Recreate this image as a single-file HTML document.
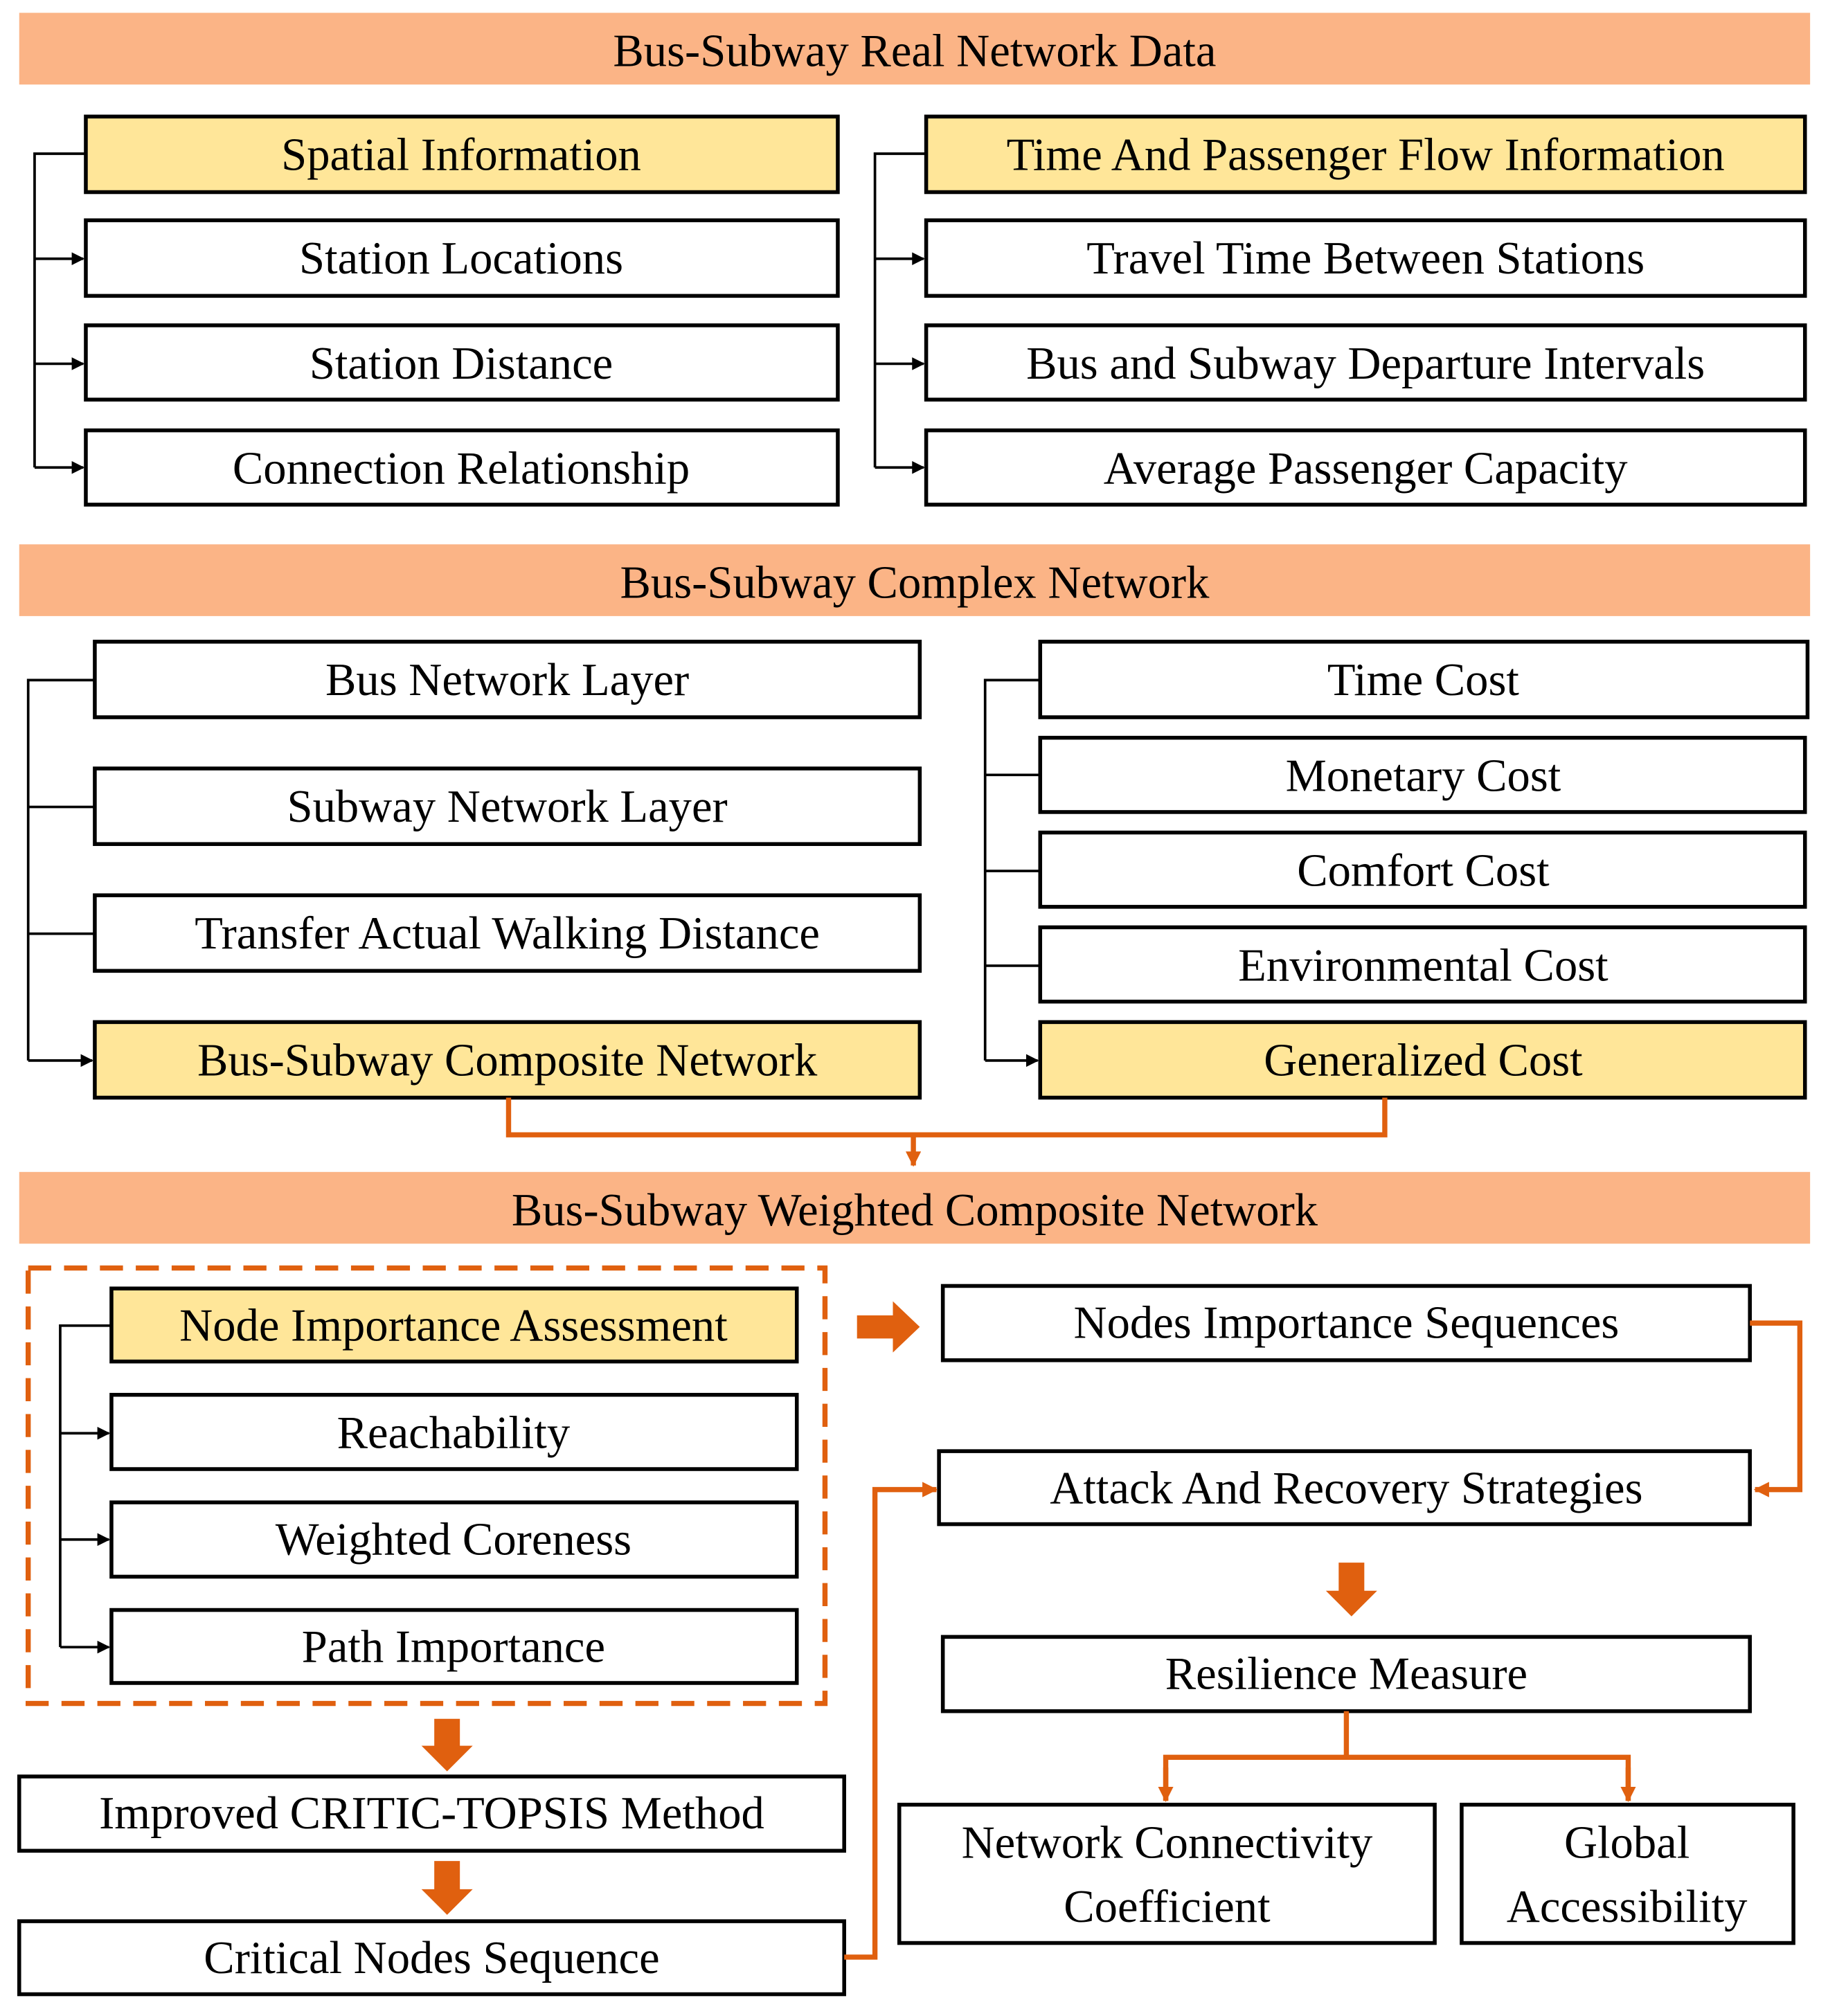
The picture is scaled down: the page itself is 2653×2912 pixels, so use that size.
<!DOCTYPE html>
<html><head><meta charset="utf-8"><style>html,body{margin:0;padding:0;background:#fff}svg{display:block}</style></head>
<body>
<svg xmlns="http://www.w3.org/2000/svg" width="2653" height="2912" viewBox="0 0 1434 1574" preserveAspectRatio="none" font-family="'Liberation Serif', serif" font-size="36" text-anchor="middle">
<defs>
<marker id="ab" markerWidth="10" markerHeight="10" refX="9" refY="5" orient="auto" markerUnits="userSpaceOnUse"><path d="M0,0 L10,5 L0,10 z" fill="#000"/></marker>
<marker id="ao" markerWidth="12" markerHeight="12" refX="11" refY="6" orient="auto" markerUnits="userSpaceOnUse"><path d="M0,0 L12,6 L0,12 z" fill="#E0600F"/></marker>
</defs>
<rect width="1434" height="1574" fill="#fff"/>
<g fill="#FBB486">
<rect x="15" y="10" width="1398" height="56"/>
<rect x="15" y="425" width="1398" height="56"/>
<rect x="15" y="915" width="1398" height="56"/>
</g>
<g dominant-baseline="central" fill="#000">
<text x="714" y="40">Bus-Subway  Real Network  Data</text>
<text x="714" y="455">Bus-Subway  Complex  Network</text>
<text x="714" y="945">Bus-Subway  Weighted  Composite  Network</text>
</g>
<g stroke="#000" stroke-width="3">
<rect x="67" y="91" width="587" height="59" fill="#FFE699"/>
<rect x="67" y="172" width="587" height="59" fill="#fff"/>
<rect x="67" y="254" width="587" height="58" fill="#fff"/>
<rect x="67" y="336" width="587" height="58" fill="#fff"/>
<rect x="723" y="91" width="686" height="59" fill="#FFE699"/>
<rect x="723" y="172" width="686" height="59" fill="#fff"/>
<rect x="723" y="254" width="686" height="58" fill="#fff"/>
<rect x="723" y="336" width="686" height="58" fill="#fff"/>
<rect x="74" y="501" width="644" height="59" fill="#fff"/>
<rect x="74" y="600" width="644" height="59" fill="#fff"/>
<rect x="74" y="699" width="644" height="59" fill="#fff"/>
<rect x="74" y="798" width="644" height="59" fill="#FFE699"/>
<rect x="812" y="501" width="599" height="59" fill="#fff"/>
<rect x="812" y="576" width="597" height="58" fill="#fff"/>
<rect x="812" y="650" width="597" height="58" fill="#fff"/>
<rect x="812" y="724" width="597" height="58" fill="#fff"/>
<rect x="812" y="798" width="597" height="59" fill="#FFE699"/>
<rect x="87" y="1006" width="535" height="57" fill="#FFE699"/>
<rect x="87" y="1089" width="535" height="58" fill="#fff"/>
<rect x="87" y="1173" width="535" height="58" fill="#fff"/>
<rect x="87" y="1257" width="535" height="57" fill="#fff"/>
<rect x="736" y="1004" width="630" height="58" fill="#fff"/>
<rect x="733" y="1133" width="633" height="57" fill="#fff"/>
<rect x="736" y="1278" width="630" height="58" fill="#fff"/>
<rect x="702" y="1409" width="418" height="108" fill="#fff"/>
<rect x="1141" y="1409" width="259" height="108" fill="#fff"/>
<rect x="15" y="1387" width="644" height="58" fill="#fff"/>
<rect x="15" y="1500" width="644" height="57" fill="#fff"/>
</g>
<g stroke="#000" stroke-width="2" fill="none">
<path d="M67,120 H27 V365"/>
<path d="M27,202 H65" marker-end="url(#ab)"/><path d="M27,284 H65" marker-end="url(#ab)"/><path d="M27,365 H65" marker-end="url(#ab)"/>
<path d="M723,120 H683 V365"/>
<path d="M683,202 H721" marker-end="url(#ab)"/><path d="M683,284 H721" marker-end="url(#ab)"/><path d="M683,365 H721" marker-end="url(#ab)"/>
<path d="M74,531 H22 V828"/><path d="M22,630 H74"/><path d="M22,729 H74"/>
<path d="M22,828 H72" marker-end="url(#ab)"/>
<path d="M812,531 H769 V828"/><path d="M769,605 H812"/><path d="M769,680 H812"/><path d="M769,754 H812"/>
<path d="M769,828 H810" marker-end="url(#ab)"/>
<path d="M87,1035 H47 V1286"/>
<path d="M47,1119 H85" marker-end="url(#ab)"/><path d="M47,1202 H85" marker-end="url(#ab)"/><path d="M47,1286 H85" marker-end="url(#ab)"/>
</g>
<rect x="22" y="990" width="622" height="340" fill="none" stroke="#E0600F" stroke-width="4" stroke-dasharray="18,10"/>
<g stroke="#E0600F" stroke-width="4" fill="none">
<path d="M397,857 V886 H1081 V857"/>
<path d="M713,886 V910" marker-end="url(#ao)"/>
<path d="M1366,1033 H1405 V1163 H1370" marker-end="url(#ao)"/>
<path d="M1051,1336 V1372"/><path d="M910,1406 V1372 H1271 V1406"/>
<path d="M910,1380 V1406" marker-end="url(#ao)"/><path d="M1271,1380 V1406" marker-end="url(#ao)"/>
<path d="M659,1528 H683 V1163 H731" marker-end="url(#ao)"/>
</g>
<g fill="#E0600F">
<path d="M669,1027 H697 V1016 L718,1036 L697,1056 V1045 H669 z"/>
<path d="M1045,1220 V1242 H1035 L1055,1262 L1075,1242 H1065 V1220 z"/>
<path d="M339,1342 V1363 H329 L349,1383 L369,1363 H359 V1342 z"/>
<path d="M339,1453 V1475 H329 L349,1495 L369,1475 H359 V1453 z"/>
</g>
<g dominant-baseline="central" fill="#000">
<text x="360" y="121">Spatial  Information</text>
<text x="360" y="202">Station  Locations</text>
<text x="360" y="284">Station  Distance</text>
<text x="360" y="366">Connection  Relationship</text>
<text x="1066" y="121">Time And  Passenger  Flow Information</text>
<text x="1066" y="202">Travel  Time Between  Stations</text>
<text x="1066" y="284">Bus and Subway  Departure  Intervals</text>
<text x="1066" y="366">Average  Passenger  Capacity</text>
<text x="396" y="531">Bus Network  Layer</text>
<text x="396" y="630">Subway  Network  Layer</text>
<text x="396" y="729">Transfer  Actual  Walking  Distance</text>
<text x="396" y="828">Bus-Subway  Composite  Network</text>
<text x="1111" y="531">Time Cost</text>
<text x="1111" y="606">Monetary  Cost</text>
<text x="1111" y="680">Comfort  Cost</text>
<text x="1111" y="754">Environmental  Cost</text>
<text x="1111" y="828">Generalized  Cost</text>
<text x="354" y="1035">Node Importance  Assessment</text>
<text x="354" y="1119">Reachability</text>
<text x="354" y="1202">Weighted  Coreness</text>
<text x="354" y="1286">Path Importance</text>
<text x="1051" y="1033">Nodes  Importance  Sequences</text>
<text x="1051" y="1162">Attack  And Recovery  Strategies</text>
<text x="1051" y="1307">Resilience  Measure</text>
<text x="911" y="1439">Network  Connectivity</text>
<text x="911" y="1489">Coefficient</text>
<text x="1270" y="1439">Global</text>
<text x="1270" y="1489">Accessibility</text>
<text x="337" y="1416">Improved  CRITIC-TOPSIS  Method</text>
<text x="337" y="1529">Critical  Nodes  Sequence</text>
</g>
</svg>
</body></html>
